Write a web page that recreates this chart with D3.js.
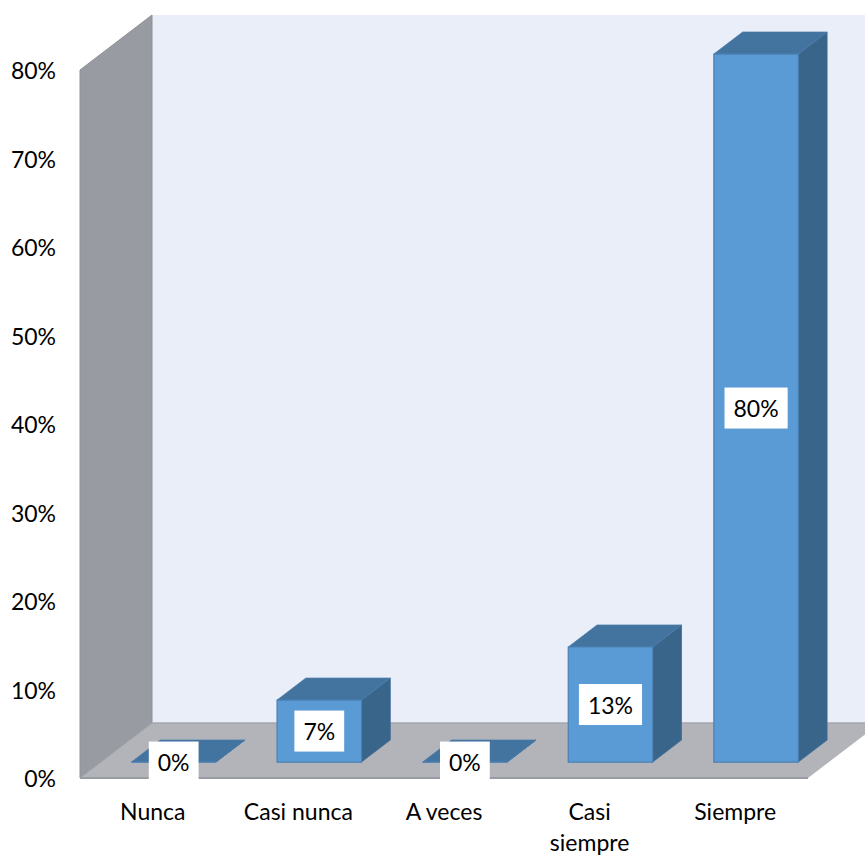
<!DOCTYPE html>
<html><head><meta charset="utf-8">
<script src="https://cdn.jsdelivr.net/npm/d3@7"></script>
<style>body{margin:0;background:#fff}svg{display:block}</style>
</head><body>
<svg id="c" width="865" height="857"></svg>
<script>
const categories = ["Nunca", "Casi nunca", "A veces", "Casi siempre", "Siempre"];
const values = [0, 0.07, 0, 0.13, 0.80];
const valueLabels = ["0%", "7%", "0%", "13%", "80%"];
const ticks = [0, 0.1, 0.2, 0.3, 0.4, 0.5, 0.6, 0.7, 0.8];

const svg = d3.select("#c");
const DX = 72, DY = -55; // full depth vector
const tFront = 0.29, tBack = 0.69;
const y = d3.scaleLinear().domain([0, 0.8]).range([778, 70]);
const x = d3.scaleBand().domain(categories).range([80, 808]).paddingInner(0.42).paddingOuter(0.21);
const P = (xf, yf, t) => [xf + t * DX, yf + t * DY];
const poly = pts => "M" + pts.map(p => p.join(",")).join("L") + "Z";

const x0 = 80, x1 = 808, y0 = y(0), yTop = y(0.8);
// back wall
svg.append("path").attr("d", poly([P(x0, yTop, 1), P(x1 + 200, yTop, 1), P(x1 + 200, y0, 1), P(x0, y0, 1)]))
  .attr("fill", "#EAEEF9");
// left wall
svg.append("path").attr("d", poly([P(x0, yTop, 0), P(x0, yTop, 1), P(x0, y0, 1), P(x0, y0, 0)]))
  .attr("fill", "#989BA1").attr("stroke", "#8E9197").attr("stroke-width", 1);
// floor
svg.append("path").attr("d", poly([P(x0, y0, 0), P(x1, y0, 0), P(x1, y0, 1), P(x0, y0, 1)]))
  .attr("fill", "#B2B4BA");
svg.append("path").attr("d", poly([P(x0, y0, 1), P(x1 + 200, y0, 1)]).replace("Z", ""))
  .attr("stroke", "#A4A7AD").attr("stroke-width", 1.5).attr("fill", "none");
svg.append("line").attr("x1", x0).attr("y1", y0).attr("x2", x1).attr("y2", y0)
  .attr("stroke", "#999CA2").attr("stroke-width", 2);
svg.append("path").attr("d", "M" + P(x0, y0, 0).join(",") + "L" + P(x0, y0, 1).join(","))
  .attr("stroke", "#A0A3A9").attr("stroke-width", 1).attr("fill", "none");

// bars
const g = svg.append("g");
categories.forEach((c, i) => {
  const bx0 = x(c), bx1 = x(c) + x.bandwidth();
  const yv = y(values[i]);
  g.append("path").attr("d", poly([P(bx1, yv, tFront), P(bx1, yv, tBack), P(bx1, y0, tBack), P(bx1, y0, tFront)]))
    .attr("fill", "#386589").attr("stroke", "#3F6F99").attr("stroke-width", 0.8);
  g.append("path").attr("d", poly([P(bx0, yv, tFront), P(bx0, yv, tBack), P(bx1, yv, tBack), P(bx1, yv, tFront)]))
    .attr("fill", "#43739F").attr("stroke", "#4A7BA8").attr("stroke-width", 0.8);
  g.append("path").attr("d", poly([P(bx0, yv, tFront), P(bx1, yv, tFront), P(bx1, y0, tFront), P(bx0, y0, tFront)]))
    .attr("fill", "#5B9BD5").attr("stroke", "#4A80B3").attr("stroke-width", 1.2);
});

// data labels
const font = "Lato, 'Open Sans', sans-serif";
const FS = 23;
categories.forEach((c, i) => {
  const cx = x(c) + x.bandwidth() / 2 + tFront * DX;
  const cy = (y(values[i]) + y0) / 2 + tFront * DY;
  const t = svg.append("text").attr("x", cx).attr("y", cy).attr("text-anchor", "middle")
    .attr("dominant-baseline", "central").attr("font-family", font).attr("font-size", FS)
    .attr("fill", "#000").text(valueLabels[i]);
  const bb = t.node().getBBox();
  svg.insert("rect", () => t.node()).attr("x", cx - bb.width / 2 - 9).attr("y", cy - 20.5)
    .attr("width", bb.width + 18).attr("height", 41).attr("fill", "#fff");
});

// y axis labels
ticks.forEach(v => {
  svg.append("text").attr("x", 56).attr("y", y(v)).attr("text-anchor", "end")
    .attr("dominant-baseline", "central").attr("font-family", font).attr("font-size", FS)
    .attr("fill", "#000").text(d3.format(".0%")(v));
});

// category labels
categories.forEach(c => {
  const cx = x(c) + x.bandwidth() / 2;
  const words = c === "Casi siempre" ? ["Casi", "siempre"] : [c];
  words.forEach((w, k) => {
    svg.append("text").attr("x", cx).attr("y", 811 + k * 31).attr("text-anchor", "middle")
      .attr("dominant-baseline", "central").attr("font-family", font).attr("font-size", FS)
      .attr("fill", "#000").text(w);
  });
});
</script>
</body></html>
